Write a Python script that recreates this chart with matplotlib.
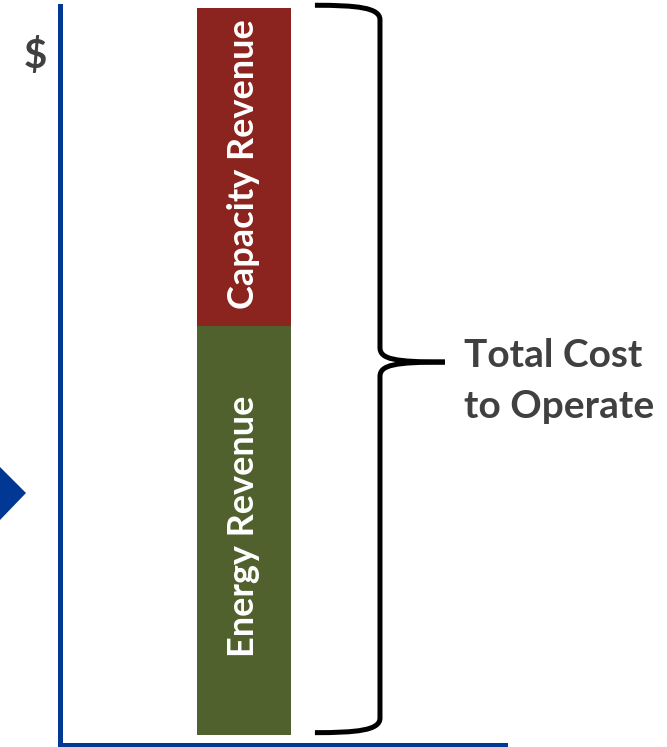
''' Stacked revenue bar with brace showing the total cost to operate. '''

import numpy as np
import matplotlib
matplotlib.use('Agg')
import matplotlib.pyplot as plt
from matplotlib.path import Path
from matplotlib.patches import PathPatch, Polygon

# Data (arbitrary $ units)
categories = ['Plant']
segments = ['Energy Revenue', 'Capacity Revenue']
energy = [56.3]
capacity = [43.7]
seg_colors = ['#50612D', '#8B231E']
brace_label = 'Total Cost\nto Operate'

AXIS_BLUE = '#003893'
TEXT_GREY = '#404040'
FONT = ['Lato', 'DejaVu Sans']

plt.rcParams['font.family'] = FONT

W, H = 667, 747
fig = plt.figure(figsize=(W / 100, H / 100), dpi=100)

# axes in pixel placement: left spine x=60, bottom y=745, top y=6, right x=505
ax = fig.add_axes([60 / W, (H - 745) / H, (505 - 60) / W, (745 - 6) / H])

# ----------------------------------------------------------------------
# bars
x = np.arange(len(categories))
ax.bar(x, energy, width=1.0, color=seg_colors[0])
ax.bar(x, capacity, width=1.0, bottom=energy, color=seg_colors[1])

ax.set_xlim(-1.957, 2.777)
ax.set_ylim(-1.4, 100.3)

for xi, e, c in zip(x, energy, capacity):
    ax.text(xi, e / 2 + 0.5, segments[0], rotation=90, ha='center', va='center',
            color='white', fontsize=26, fontweight='bold')
    ax.text(xi, e + c / 2 + 0.4, segments[1], rotation=90, ha='center', va='center',
            color='white', fontsize=26, fontweight='bold')

# ----------------------------------------------------------------------
# brace to the right of the bar
total = energy[0] + capacity[0]
x0, xv, xt = 0.755, 1.447, 2.138
top, bot = total + 0.4, 0.3
tip = 51.3
r = 2.0  # corner size in y units

upper = [(x0, top), (xv - 0.25, top), (xv, top - 0.3), (xv, top - r),
         (xv, tip + r), (xv, tip + 0.4), (xv + 0.15, tip), (xt, tip)]
lower = [(x0, bot), (xv - 0.25, bot), (xv, bot + 0.3), (xv, bot + r),
         (xv, tip - r), (xv, tip - 0.4), (xv + 0.15, tip), (xt, tip)]
codes = [Path.MOVETO, Path.CURVE4, Path.CURVE4, Path.CURVE4,
         Path.LINETO, Path.CURVE4, Path.CURVE4, Path.CURVE4]
for pts in (upper, lower):
    ax.add_patch(PathPatch(Path(pts, codes), fill=False, lw=3.6,
                           edgecolor='black', capstyle='butt',
                           joinstyle='round', clip_on=False))

ax.text(xt + 0.2, 48.7, brace_label, ha='left', va='center',
        fontsize=28, fontweight='bold', color=TEXT_GREY, linespacing=1.55)

# ----------------------------------------------------------------------
# axis styling
for side in ('top', 'right'):
    ax.spines[side].set_visible(False)
for side in ('left', 'bottom'):
    ax.spines[side].set_color(AXIS_BLUE)
    ax.spines[side].set_linewidth(3.6)
ax.set_xticks([])
ax.set_yticks([])

fig.text(35 / W, 1 - 56 / H, '$', ha='center', va='center',
         fontsize=29, color=TEXT_GREY, fontweight='bold')

# blue arrowhead at left edge
fig.patches.append(Polygon([(0, 1 - 467 / H), (26 / W, 1 - 493 / H), (0, 1 - 520 / H)],
                           closed=True, transform=fig.transFigure,
                           facecolor=AXIS_BLUE, edgecolor='none'))

fig.savefig('out.png', dpi=100)
